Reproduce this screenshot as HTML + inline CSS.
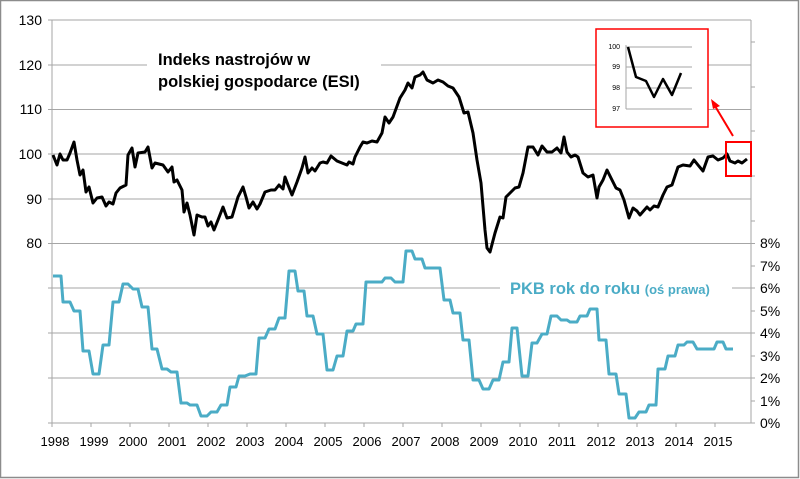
<!DOCTYPE html>
<html><head><meta charset="utf-8"><style>
html,body{margin:0;padding:0;background:#fff}
svg{display:block}
text{font-family:"Liberation Sans",sans-serif}
</style></head><body>
<svg width="800" height="479" viewBox="0 0 800 479" xmlns="http://www.w3.org/2000/svg">
<rect x="0.5" y="0.5" width="798" height="477" fill="#fff" stroke="#8c8c8c" stroke-width="1.5"/>
<g stroke="#a6a6a6" stroke-width="1">
<line x1="52" y1="20" x2="751" y2="20"/>
<line x1="52" y1="65" x2="751" y2="65"/>
<line x1="52" y1="109.5" x2="751" y2="109.5"/>
<line x1="52" y1="154" x2="751" y2="154"/>
<line x1="52" y1="199" x2="751" y2="199"/>
<line x1="52" y1="243.5" x2="751" y2="243.5"/>
<line x1="52" y1="288" x2="751" y2="288"/>
<line x1="52" y1="333" x2="751" y2="333"/>
<line x1="52" y1="378" x2="751" y2="378"/>
<line x1="52" y1="423" x2="751" y2="423"/>
<line x1="52" y1="20" x2="52" y2="423"/>
<line x1="751" y1="20" x2="751" y2="423"/>
</g>
<g stroke="#a6a6a6" stroke-width="1">
<line x1="48" y1="20" x2="52" y2="20"/><line x1="48" y1="65" x2="52" y2="65"/><line x1="48" y1="109.5" x2="52" y2="109.5"/><line x1="48" y1="154" x2="52" y2="154"/><line x1="48" y1="199" x2="52" y2="199"/><line x1="48" y1="243.5" x2="52" y2="243.5"/><line x1="48" y1="288" x2="52" y2="288"/><line x1="48" y1="333" x2="52" y2="333"/><line x1="48" y1="378" x2="52" y2="378"/><line x1="48" y1="423" x2="52" y2="423"/>
<line x1="751" y1="42" x2="755" y2="42"/><line x1="751" y1="87" x2="755" y2="87"/><line x1="751" y1="131" x2="755" y2="131"/><line x1="751" y1="176" x2="755" y2="176"/><line x1="751" y1="221" x2="755" y2="221"/>
<line x1="751" y1="243.5" x2="755" y2="243.5"/><line x1="751" y1="266" x2="755" y2="266"/><line x1="751" y1="288" x2="755" y2="288"/><line x1="751" y1="311" x2="755" y2="311"/><line x1="751" y1="333" x2="755" y2="333"/><line x1="751" y1="356" x2="755" y2="356"/><line x1="751" y1="378" x2="755" y2="378"/><line x1="751" y1="401" x2="755" y2="401"/><line x1="751" y1="423" x2="755" y2="423"/>
<line x1="52" y1="423" x2="52" y2="427"/><line x1="91" y1="423" x2="91" y2="427"/><line x1="130" y1="423" x2="130" y2="427"/><line x1="169" y1="423" x2="169" y2="427"/><line x1="208" y1="423" x2="208" y2="427"/><line x1="247" y1="423" x2="247" y2="427"/><line x1="286" y1="423" x2="286" y2="427"/><line x1="325" y1="423" x2="325" y2="427"/><line x1="364" y1="423" x2="364" y2="427"/><line x1="403" y1="423" x2="403" y2="427"/><line x1="442" y1="423" x2="442" y2="427"/><line x1="481" y1="423" x2="481" y2="427"/><line x1="520" y1="423" x2="520" y2="427"/><line x1="559" y1="423" x2="559" y2="427"/><line x1="598" y1="423" x2="598" y2="427"/><line x1="637" y1="423" x2="637" y2="427"/><line x1="676" y1="423" x2="676" y2="427"/><line x1="715" y1="423" x2="715" y2="427"/>
</g>
<g font-size="14" fill="#000" text-anchor="end">
<text x="42" y="25">130</text><text x="42" y="70">120</text><text x="42" y="114">110</text><text x="42" y="159">100</text><text x="42" y="204">90</text><text x="42" y="248">80</text>
</g>
<g font-size="14" fill="#000" text-anchor="start">
<text x="760" y="248">8%</text><text x="760" y="271">7%</text><text x="760" y="293">6%</text><text x="760" y="316">5%</text><text x="760" y="338">4%</text><text x="760" y="361">3%</text><text x="760" y="383">2%</text><text x="760" y="406">1%</text><text x="760" y="428">0%</text>
</g>
<g font-size="13" fill="#000" text-anchor="middle">
<text x="55" y="446">1998</text><text x="94" y="446">1999</text><text x="133" y="446">2000</text><text x="172" y="446">2001</text><text x="211" y="446">2002</text><text x="250" y="446">2003</text><text x="289" y="446">2004</text><text x="328" y="446">2005</text><text x="367" y="446">2006</text><text x="406" y="446">2007</text><text x="445" y="446">2008</text><text x="484" y="446">2009</text><text x="523" y="446">2010</text><text x="562" y="446">2011</text><text x="601" y="446">2012</text><text x="640" y="446">2013</text><text x="679" y="446">2014</text><text x="718" y="446">2015</text>
</g>
<rect x="147" y="44" width="234" height="46" fill="#fff"/>
<text x="158" y="65" font-size="16.5" font-weight="bold" fill="#000">Indeks nastrojów w</text>
<text x="158" y="87" font-size="16.5" font-weight="bold" fill="#000">polskiej gospodarce (ESI)</text>
<rect x="500" y="276" width="232" height="24" fill="#fff"/>
<text x="510" y="294" font-size="16.5" font-weight="bold" fill="#4bacc6">PKB rok do roku <tspan font-size="13">(oś prawa)</tspan></text>
<polyline fill="none" stroke="#4bacc6" stroke-width="3" stroke-linejoin="round" points="53,276 61,276 63,302 70,302 74,311 80,311 83,351 89,351 93,374 99,374 103,345 109,345 113,302 119,302 123,284 128,284 133,289 138,289 142,307 148,307 152,349 157,349 162,369 167,369 171,372 177,372 181,403 187,403 190,405 197,405 201,416 207,416 211,412 217,412 221,405 227,405 230,387 236,387 239,376 245,376 250,374 256,374 259,338 265,338 269,329 275,329 279,318 285,318 289,271 295,271 298,291 304,291 307,316 313,316 317,334 323,334 327,370 333,370 337,356 343,356 347,331 353,331 356,324 363,324 366,282 382,282 385,278 391,278 395,282 403,282 406,251 412,251 415,259 422,259 425,268 440,268 444,300 450,300 453,313 460,313 463,340 469,340 473,380 479,380 483,389 489,389 493,380 499,380 503,362 509,362 512,328 517,328 522,376 528,376 532,343 537,343 542,334 547,334 551,316 557,316 561,320 567,320 570,322 577,322 580,316 587,316 590,309 597,309 599,340 606,340 609,374 616,374 619,394 626,394 629,418 635,418 639,412 646,412 649,405 656,405 658,369 665,369 668,356 675,356 678,345 684,345 687,342 693,342 697,349 714,349 717,342 723,342 726,349 733,349"/>
<polyline fill="none" stroke="#000" stroke-width="3" stroke-linejoin="round" points="53,155 57,165 60,154 63,160 67,160 70,153 74,142 77,160 80,175 83,170 86,192 89,187 93,203 97,198 102,197 106,206 109,202 113,204 116,193 120,188 126,185 128,155 132,148 135,167 138,153 145,152 148,147 152,168 155,163 163,165 168,172 172,167 174,182 177,180 182,190 184,212 187,203 190,215 194,235 197,215 202,217 205,217 208,226 211,222 214,230 218,220 223,207 227,218 232,217 238,197 243,187 246,197 249,208 253,202 257,209 260,204 265,192 271,190 275,190 279,185 283,189 285,177 288,185 292,195 297,182 302,168 305,157 308,173 312,168 315,171 320,163 323,162 327,163 331,156 337,161 347,165 349,162 353,164 355,157 360,147 363,142 367,143 372,141 377,142 382,133 385,117 389,123 393,117 400,98 405,90 408,83 412,88 415,77 420,75 423,72 427,80 433,83 438,80 443,82 448,86 453,88 459,97 464,113 468,112 473,133 477,160 481,183 485,230 487,248 490,252 495,233 500,217 503,218 506,197 510,193 515,188 519,187 523,173 528,147 533,147 538,155 542,146 547,152 552,152 557,148 561,153 564,137 567,152 571,157 575,155 578,157 583,173 588,177 593,175 597,198 599,187 603,180 607,170 612,180 616,188 620,190 624,200 629,218 633,208 637,211 640,215 647,207 650,210 654,206 658,207 663,195 667,187 672,185 678,167 683,165 690,166 694,160 698,165 703,171 708,157 713,156 718,160 723,158 727,154 730,161 735,163 738,161 742,163 747,159"/>
<rect x="726" y="142" width="25" height="34" fill="none" stroke="#ff0000" stroke-width="2"/>
<rect x="596" y="29" width="112" height="98" fill="#fff" stroke="#ff0000" stroke-width="1.5"/>
<g stroke="#a6a6a6" stroke-width="1">
<line x1="626" y1="47" x2="692" y2="47"/><line x1="626" y1="67" x2="692" y2="67"/><line x1="626" y1="88" x2="692" y2="88"/><line x1="626" y1="109" x2="692" y2="109"/><line x1="626" y1="45" x2="626" y2="109"/>
</g>
<g font-size="7" fill="#000" text-anchor="end">
<text x="620" y="49">100</text><text x="620" y="69">99</text><text x="620" y="90">98</text><text x="620" y="111">97</text>
</g>
<polyline fill="none" stroke="#000" stroke-width="2.5" stroke-linejoin="round" points="628,47 636,77 646,81 654,97 663,79 672,95 681,73"/>
<line x1="733" y1="136" x2="715" y2="106" stroke="#ff0000" stroke-width="2"/>
<polygon points="711,99 720,106 713,109" fill="#ff0000"/>
</svg>
</body></html>
